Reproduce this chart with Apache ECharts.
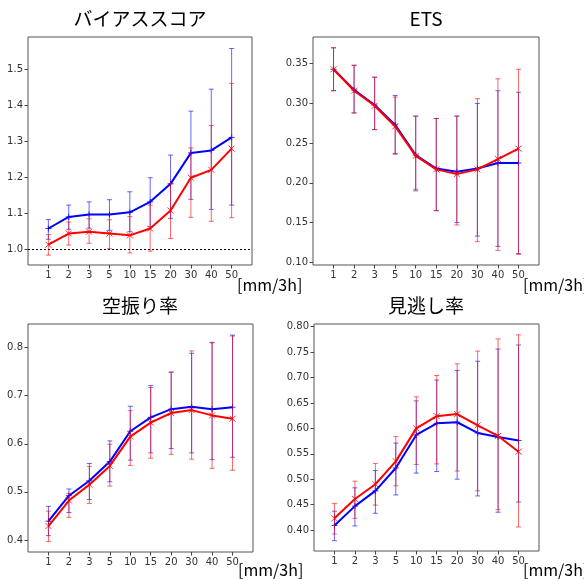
<!DOCTYPE html>
<html><head><meta charset="utf-8">
<script src="https://cdn.jsdelivr.net/npm/echarts@6/dist/echarts.min.js"></script>
<style>html,body{margin:0;padding:0;background:#fff}#c{width:584px;height:579px}</style>
</head><body><div id="c"></div>
<script>
const categories = ['1','2','3','5','10','15','20','30','40','50'];
const titles = ['バイアススコア','ETS','空振り率','見逃し率'];
const unitLabel = '[mm/3h]';

// Bias score
const biasBlue   = [1.057,1.089,1.096,1.096,1.102,1.131,1.181,1.267,1.274,1.310];
const biasBlueLo = [1.027,1.055,1.058,1.052,1.048,1.062,1.085,1.138,1.110,1.122];
const biasBlueHi = [1.082,1.122,1.131,1.137,1.159,1.198,1.261,1.383,1.444,1.557];
const biasRed    = [1.012,1.043,1.048,1.043,1.038,1.057,1.107,1.198,1.220,1.279];
const biasRedLo  = [0.983,1.011,1.016,1.001,0.989,0.994,1.029,1.088,1.077,1.087];
const biasRedHi  = [1.040,1.075,1.084,1.081,1.090,1.122,1.182,1.281,1.343,1.460];
const biasTicks  = [1.0,1.1,1.2,1.3,1.4,1.5];

// ETS
const etsBlue   = [0.343,0.317,0.298,0.273,0.235,0.218,0.214,0.218,0.225,0.225];
const etsBlueLo = [0.316,0.288,0.267,0.237,0.190,0.165,0.150,0.133,0.120,0.111];
const etsBlueHi = [0.370,0.348,0.333,0.310,0.284,0.281,0.284,0.300,0.316,0.314];
const etsRed    = [0.343,0.316,0.297,0.271,0.234,0.217,0.211,0.217,0.230,0.243];
const etsRedLo  = [0.316,0.288,0.267,0.236,0.192,0.165,0.147,0.126,0.115,0.110];
const etsRedHi  = [0.370,0.348,0.333,0.308,0.284,0.281,0.284,0.306,0.331,0.343];
const etsTicks  = [0.10,0.15,0.20,0.25,0.30,0.35];

// False alarm ratio
const farBlue   = [0.439,0.492,0.523,0.563,0.626,0.655,0.672,0.677,0.672,0.676];
const farBlueLo = [0.409,0.457,0.484,0.521,0.566,0.581,0.590,0.581,0.567,0.572];
const farBlueHi = [0.470,0.506,0.559,0.606,0.678,0.721,0.749,0.788,0.810,0.826];
const farRed    = [0.429,0.482,0.515,0.554,0.615,0.644,0.664,0.670,0.659,0.652];
const farRedLo  = [0.397,0.447,0.476,0.512,0.555,0.570,0.578,0.568,0.549,0.545];
const farRedHi  = [0.460,0.497,0.553,0.599,0.669,0.717,0.749,0.793,0.811,0.824];
const farTicks  = [0.4,0.5,0.6,0.7,0.8];

// Miss ratio
const missBlue   = [0.409,0.447,0.477,0.522,0.587,0.610,0.612,0.591,0.583,0.576];
const missBlueLo = [0.379,0.408,0.433,0.469,0.512,0.515,0.500,0.467,0.435,0.455];
const missBlueHi = [0.437,0.483,0.517,0.571,0.654,0.695,0.714,0.732,0.756,0.764];
const missRed    = [0.423,0.461,0.490,0.535,0.600,0.624,0.628,0.606,0.585,0.554];
const missRedLo  = [0.392,0.423,0.449,0.487,0.529,0.530,0.516,0.477,0.440,0.406];
const missRedHi  = [0.452,0.496,0.531,0.584,0.662,0.704,0.727,0.752,0.776,0.784];
const missTicks  = [0.40,0.45,0.50,0.55,0.60,0.65,0.70,0.75,0.80];

const panels = [
  {blue:biasBlue,blueLo:biasBlueLo,blueHi:biasBlueHi,red:biasRed,redLo:biasRedLo,redHi:biasRedHi,ticks:biasTicks,dec:1,min:0.9556,max:1.589,grid:{left:28,top:37,width:224,height:228},ref:1.0},
  {blue:etsBlue,blueLo:etsBlueLo,blueHi:etsBlueHi,red:etsRed,redLo:etsRedLo,redHi:etsRedHi,ticks:etsTicks,dec:2,min:0.0966,max:0.3836,grid:{left:313,top:37,width:226,height:228}},
  {blue:farBlue,blueLo:farBlueLo,blueHi:farBlueHi,red:farRed,redLo:farRedLo,redHi:farRedHi,ticks:farTicks,dec:1,min:0.375,max:0.849,grid:{left:28,top:324,width:225,height:228}},
  {blue:missBlue,blueLo:missBlueLo,blueHi:missBlueHi,red:missRed,redLo:missRedLo,redHi:missRedHi,ticks:missTicks,dec:2,min:0.3587,max:0.8053,grid:{left:314,top:324,width:225,height:227}}
];
const titlePos = [[140,19],[426,19],[140,306],[426,306]];
const unitPos = [[237,285],[523,285],[238,570],[523,570]];

const BLUE = '#0000ff', RED = '#ff0000';
const idx = categories.map((c,i)=>i);

function errRender(color, markerType) {
  return function(params, api) {
    const x = api.value(0);
    const pLo = api.coord([x, api.value(1)]);
    const pHi = api.coord([x, api.value(2)]);
    const p = api.coord([x, api.value(3)]);
    const cap = 2.5, m = 3;
    const es = {stroke: color, lineWidth: 1, opacity: 0.6};
    const ms = {stroke: color, lineWidth: 1, opacity: 0.8};
    const ch = [
      {type:'line', shape:{x1:pLo[0],y1:pLo[1],x2:pHi[0],y2:pHi[1]}, style:es},
      {type:'line', shape:{x1:pLo[0]-cap,y1:pLo[1],x2:pLo[0]+cap,y2:pLo[1]}, style:es},
      {type:'line', shape:{x1:pHi[0]-cap,y1:pHi[1],x2:pHi[0]+cap,y2:pHi[1]}, style:es}
    ];
    if (markerType === 'x') {
      ch.push({type:'line', shape:{x1:p[0]-m,y1:p[1]-m,x2:p[0]+m,y2:p[1]+m}, style:ms});
      ch.push({type:'line', shape:{x1:p[0]-m,y1:p[1]+m,x2:p[0]+m,y2:p[1]-m}, style:ms});
    } else {
      ch.push({type:'line', shape:{x1:p[0]-m,y1:p[1],x2:p[0]+m,y2:p[1]}, style:ms});
      ch.push({type:'line', shape:{x1:p[0],y1:p[1]-m,x2:p[0],y2:p[1]+m}, style:ms});
    }
    return {type:'group', children: ch};
  };
}

const grids = [], xAxes = [], yAxes = [], series = [], graphics = [];
panels.forEach((P, k) => {
  grids.push(Object.assign({show:true, borderColor:'#555', borderWidth:1, backgroundColor:'transparent'}, P.grid));
  xAxes.push({type:'value', gridIndex:k, min:-1, max:10, position:'bottom',
    axisLine:{show:false, onZero:false}, splitLine:{show:false},
    axisTick:{show:true, inside:false, length:3.5, customValues: idx, lineStyle:{color:'#444'}},
    axisLabel:{show:true, customValues: idx, formatter: v => categories[Math.round(v)], color:'#333', fontSize:10, fontFamily:'DejaVu Sans', margin:5}
  });
  yAxes.push({type:'value', gridIndex:k, min:P.min, max:P.max, position:'left',
    axisLine:{show:false, onZero:false}, splitLine:{show:false},
    axisTick:{show:true, inside:false, length:3.5, customValues: P.ticks, lineStyle:{color:'#444'}},
    axisLabel:{show:true, customValues: P.ticks, formatter: v => v.toFixed(P.dec), color:'#333', fontSize:10, fontFamily:'DejaVu Sans', margin:5}
  });
  const blueLine = {type:'line', xAxisIndex:k, yAxisIndex:k, data: idx.map(i=>[i,P.blue[i]]), showSymbol:false, symbol:'none',
    lineStyle:{color:BLUE, width:2}, itemStyle:{color:BLUE}, z:3};
  if (P.ref !== undefined) {
    blueLine.markLine = {silent:true, symbol:'none', label:{show:false},
      lineStyle:{color:'#000', type:[2,2], width:1}, data:[{yAxis:P.ref}]};
  }
  series.push(blueLine);
  series.push({type:'custom', xAxisIndex:k, yAxisIndex:k, renderItem: errRender(BLUE,'+'),
    data: idx.map(i=>[i,P.blueLo[i],P.blueHi[i],P.blue[i]]), z:3});
  series.push({type:'line', xAxisIndex:k, yAxisIndex:k, data: idx.map(i=>[i,P.red[i]]), showSymbol:false, symbol:'none',
    lineStyle:{color:RED, width:2}, itemStyle:{color:RED}, z:4});
  series.push({type:'custom', xAxisIndex:k, yAxisIndex:k, renderItem: errRender(RED,'x'),
    data: idx.map(i=>[i,P.redLo[i],P.redHi[i],P.red[i]]), z:4});
  graphics.push({type:'text', x:titlePos[k][0], y:titlePos[k][1],
    style:{text:titles[k], fill:'#000', font:'19px "Noto Sans CJK JP"', textAlign:'center', textVerticalAlign:'middle'}});
  graphics.push({type:'text', x:unitPos[k][0], y:unitPos[k][1],
    style:{text:unitLabel, fill:'#000', font:'16px "Noto Sans CJK JP"', textAlign:'left', textVerticalAlign:'middle'}});
});

const chart = echarts.init(document.getElementById('c'), null, {renderer:'canvas'});
chart.setOption({animation:false, backgroundColor:'#fff', grid:grids, xAxis:xAxes, yAxis:yAxes, series:series, graphic:graphics});
</script>
</body></html>
